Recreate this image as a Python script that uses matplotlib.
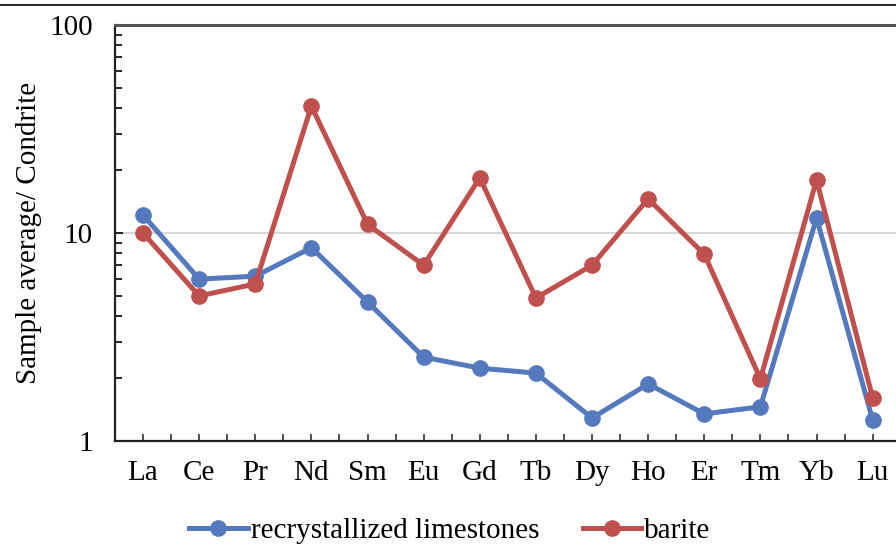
import numpy as np
import matplotlib.pyplot as plt
from matplotlib.lines import Line2D
from matplotlib.ticker import LogLocator, NullFormatter, FixedLocator

elementos = ["La", "Ce", "Pr", "Nd", "Sm", "Eu", "Gd", "Tb", "Dy", "Ho", "Er", "Tm", "Yb", "Lu"]
calizas = [12.2, 6.0, 6.2, 8.5, 4.66, 2.53, 2.24, 2.12, 1.29, 1.88, 1.35, 1.46, 11.8, 1.26]
barita = [10.0, 4.98, 5.69, 40.8, 11.0, 7.0, 18.4, 4.87, 7.0, 14.6, 7.9, 1.99, 18.0, 1.61]

azul = "#5479BD"
rojo = "#C0504D"

plt.rcParams['font.family'] = ['Liberation Serif', 'DejaVu Serif']

fig = plt.figure(figsize=(8.96, 5.47), dpi=100)
ax = fig.add_axes([0.1283, 0.1938, 0.877, 0.7605])

x = np.arange(len(elementos))
ax.plot(x, calizas, color=azul, lw=3.6, marker='o', ms=11, label='recrystallized limestones')
ax.plot(x, barita, color=rojo, lw=3.6, marker='o', ms=11, label='barite')

ax.set_yscale('log')
ax.set_ylim(1, 100)
ax.set_xlim(-0.5, len(elementos) - 0.5)
ax.yaxis.set_major_locator(FixedLocator([1, 10, 100]))
ax.set_yticklabels(["1", "10", "100"])
ax.yaxis.set_minor_locator(LogLocator(base=10, subs=np.arange(2, 10)))
ax.yaxis.set_minor_formatter(NullFormatter())
ax.grid(axis='y', which='major', color='#d0d0d0', lw=1.2)
ax.set_axisbelow(True)

ax.set_xticks(x)
ax.set_xticklabels(elementos)
ax.set_xticks(np.arange(-0.5, len(elementos)), minor=True)
ax.tick_params(axis='x', which='both', direction='in', length=5, width=1.2, color='#333333')
ax.tick_params(axis='x', which='major', pad=14, labelsize=21)
ax.tick_params(axis='y', which='major', direction='in', length=6, width=1.2, pad=16, labelsize=21)
ax.tick_params(axis='y', which='minor', direction='in', length=5, width=1.2)

for lado in ['left', 'bottom']:
    ax.spines[lado].set_color('#222222')
    ax.spines[lado].set_linewidth(1.6)
ax.spines['top'].set_color('#555555')
ax.spines['top'].set_linewidth(2.2)
ax.spines['right'].set_visible(False)

ax.set_ylabel("Sample average/ Condrite", fontsize=21, labelpad=5)

fig.legend(loc='center', bbox_to_anchor=(0.502, 0.03), ncol=2, frameon=False,
           fontsize=21, handlelength=2.0, handletextpad=0.1, columnspacing=1.5)

fig.add_artist(Line2D([0, 1], [0.991, 0.991], color='black', lw=1.2, transform=fig.transFigure))

plt.savefig("out.png", dpi=100)
plt.close()
